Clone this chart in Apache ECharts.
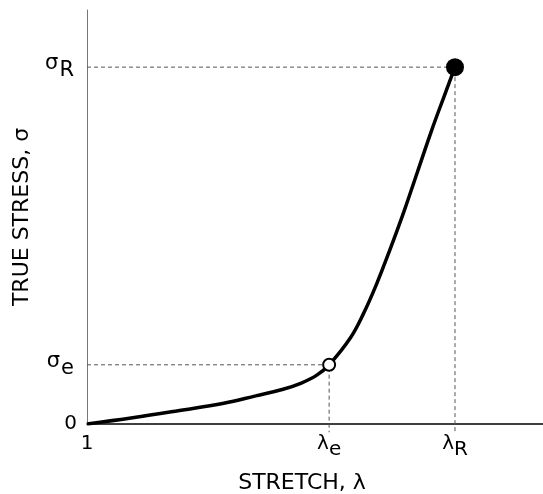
<!DOCTYPE html>
<html>
<head>
<meta charset="utf-8">
<script src="https://cdn.jsdelivr.net/npm/echarts@6/dist/echarts.min.js"></script>
<style>html,body{margin:0;padding:0;background:#fff}#c{width:543px;height:494px}</style>
</head>
<body>
<div id="c"></div>
<script>
// Curve (stretch in plot units, 0 = λ of 1; stress in plot units)
const stretch = [0, 10, 20, 30, 37, 43, 47, 50.4, 53.1, 57.7, 60.6, 63.5, 66.4, 69.5, 72.5, 75.6, 78.4, 80.7];
const stress  = [0, 1.5, 3.2, 5.0, 6.8, 8.4, 9.9, 11.8, 14.3, 20.7, 26.6, 33.8, 42.0, 51.3, 61.0, 71.0, 79.4, 86.2];
// Elastic limit and rupture points
const elastic = [53.1, 14.3];
const rupture = [80.7, 86.2];
// Tick labels
const xTickValues = [0, 53.1, 80.7];
const xTickLabels = ['1', 'λe', 'λR'];
const yTickValues = [0, 14.3, 86.2];
const yTickLabels = ['0', 'σe', 'σR'];
const xTitle = 'STRETCH, λ';
const yTitle = 'TRUE STRESS, σ';

const curve = stretch.map((x, i) => [x, stress[i]]);
function fmt(labels, values) {
  return function (v) {
    let idx = 0, best = 1e9;
    values.forEach((t, i) => { const d = Math.abs(t - v); if (d < best) { best = d; idx = i; } });
    const s = labels[idx];
    if (s.length === 1) return '{m|' + s + '}';
    return '{g|' + s[0] + '}{sub|' + s.slice(1) + '}';
  };
}
const FONT = '"DejaVu Sans", sans-serif';
const chart = echarts.init(document.getElementById('c'), null, {renderer: 'canvas'});
const dash = {color: '#555', width: 1, type: [4, 3]};
chart.setOption({
  animation: false,
  grid: {left: 87, right: 0, top: 10, bottom: 70, containLabel: false, outerBoundsMode: 'none'},
  xAxis: {
    type: 'value', min: 0, max: 100,
    name: xTitle, nameLocation: 'middle', nameGap: 48,
    nameTextStyle: {fontFamily: FONT, fontSize: 22, color: '#000', padding: [0, 26, 0, 0]},
    axisLine: {show: true, lineStyle: {color: '#000', width: 1.5}},
    axisTick: {show: false},
    splitLine: {show: false},
    axisLabel: {
      customValues: xTickValues, margin: 10,
      formatter: fmt(xTickLabels, xTickValues),
      rich: {
        m: {fontFamily: FONT, fontSize: 20, color: '#000', lineHeight: 26, verticalAlign: 'top'},
        g: {fontFamily: FONT, fontSize: 20, color: '#000', lineHeight: 26, verticalAlign: 'top'},
        sub: {fontFamily: FONT, fontSize: 20, color: '#000', lineHeight: 26, verticalAlign: 'bottom', padding: [10, 0, 0, 0]}
      }
    }
  },
  yAxis: {
    type: 'value', min: 0, max: 100,
    name: yTitle, nameLocation: 'middle', nameGap: 54, nameRotate: 90,
    nameTextStyle: {fontFamily: FONT, fontSize: 22, color: '#000'},
    axisLine: {show: true, lineStyle: {color: '#777', width: 1}},
    axisTick: {show: false},
    splitLine: {show: false},
    axisLabel: {
      customValues: yTickValues, margin: 10,
      formatter: fmt(yTickLabels, yTickValues),
      rich: {
        m: {fontFamily: FONT, fontSize: 20, color: '#000'},
        g: {fontFamily: FONT, fontSize: 21, color: '#000', lineHeight: 28, verticalAlign: 'top', padding: [0, 1, 8, 0]},
        sub: {fontFamily: FONT, fontSize: 21, color: '#000', lineHeight: 28, verticalAlign: 'bottom', padding: [8, 3, 0, 0]}
      }
    }
  },
  series: [
    {type: 'line', data: [[0, elastic[1]], elastic, [elastic[0], -2]], symbol: 'none', clip: false, lineStyle: dash, z: 1},
    {type: 'line', data: [[0, rupture[1]], rupture, [rupture[0], -2]], symbol: 'none', clip: false, lineStyle: dash, z: 1},
    {type: 'line', data: curve, smooth: 0.4, symbol: 'none', lineStyle: {color: '#000', width: 3.5}, z: 3},
    {type: 'scatter', data: [elastic], symbol: 'circle', symbolSize: 12,
     itemStyle: {color: '#fff', borderColor: '#000', borderWidth: 2, opacity: 1}, z: 5},
    {type: 'scatter', data: [rupture], symbol: 'circle', symbolSize: 18,
     itemStyle: {color: '#000', opacity: 1}, z: 5}
  ]
});
</script>
</body>
</html>
